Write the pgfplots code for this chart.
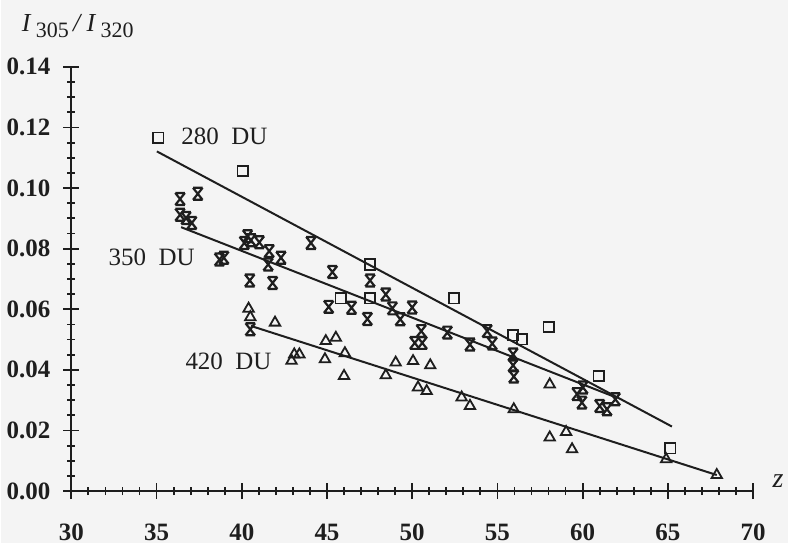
\documentclass[border=0pt]{standalone}
\usepackage{fontspec}
\setmainfont{Liberation Serif}
\usepackage{pgfplots}
\pgfplotsset{compat=1.18}
\definecolor{ink}{HTML}{1E1E1E}
\definecolor{paper}{HTML}{F4F4F4}
\pgfdeclareplotmark{hglass}{%
 \pgfpathmoveto{\pgfqpoint{-0.8\pgfplotmarksize}{-\pgfplotmarksize}}%
 \pgfpathlineto{\pgfqpoint{0.8\pgfplotmarksize}{\pgfplotmarksize}}%
 \pgfpathmoveto{\pgfqpoint{-0.8\pgfplotmarksize}{\pgfplotmarksize}}%
 \pgfpathlineto{\pgfqpoint{0.8\pgfplotmarksize}{-\pgfplotmarksize}}%
 \pgfpathmoveto{\pgfqpoint{-0.8\pgfplotmarksize}{\pgfplotmarksize}}%
 \pgfpathlineto{\pgfqpoint{0.8\pgfplotmarksize}{\pgfplotmarksize}}%
 \pgfpathmoveto{\pgfqpoint{-0.8\pgfplotmarksize}{-\pgfplotmarksize}}%
 \pgfpathlineto{\pgfqpoint{0.8\pgfplotmarksize}{-\pgfplotmarksize}}%
 \pgfusepathqstroke}
\begin{document}
\begin{tikzpicture}
\fill[paper] (-35pt,-26pt) rectangle (359pt,246pt);
\begin{axis}[
  at={(0,0)}, anchor=south west,
  scale only axis, width=341.5pt, height=212.5pt,
  xmin=30, xmax=70, ymin=0, ymax=0.14,
  axis lines=left, axis line style={-, line width=1pt, ink},
  xtick={30,35,...,70}, minor x tick num=4,
  ytick={0,0.02,0.04,0.06,0.08,0.10,0.12,0.14}, minor y tick num=3,
  scaled y ticks=false,
  yticklabel style={/pgf/number format/fixed, /pgf/number format/fixed zerofill, /pgf/number format/precision=2, xshift=-3pt},
  /pgf/number format/assume math mode=true,
  tick label style={font=\fontsize{12.5}{14}\selectfont\bfseries, text=ink},
  tick align=center, major tick length=8pt, minor tick length=4pt,
  tick style={line width=0.9pt, ink},
  xticklabel style={yshift=-9pt},
  clip=false,
]
% fitted lines
\addplot[ink, line width=1pt] coordinates {(35.02,0.1121) (65.24,0.0213)};
\addplot[ink, line width=1pt] coordinates {(36.44,0.0871) (61.92,0.0310)};
\addplot[ink, line width=1pt] coordinates {(40.54,0.0545) (67.87,0.0053)};
% 280 DU squares
\addplot[only marks, mark=square, mark size=2.6pt, ink, line width=0.9pt] coordinates {
(35.10,0.1166) (40.05,0.1057) (47.53,0.0748) (47.53,0.0636) (45.80,0.0636)
(52.45,0.0636) (55.92,0.0514) (56.45,0.0501) (58.01,0.0541) (60.94,0.0380) (65.14,0.0141)};
% 350 DU
\addplot[only marks, mark=hglass, mark size=3pt, ink, line width=1.1pt] coordinates {
(36.38,0.0964) (37.42,0.0981) (36.38,0.0912) (36.73,0.0901) (37.07,0.0885)
(38.69,0.0764) (38.95,0.0770) (40.34,0.0841) (40.54,0.0828) (40.15,0.0819)
(41.03,0.0821) (41.61,0.0792) (42.30,0.0770) (41.55,0.0748) (40.47,0.0695)
(41.81,0.0687) (44.06,0.0819) (45.32,0.0723) (45.10,0.0608) (46.44,0.0605)
(47.53,0.0695) (48.45,0.0649) (48.84,0.0603) (47.37,0.0568) (49.30,0.0567)
(50.00,0.0606) (40.50,0.0534) (50.53,0.0528) (50.15,0.0489) (50.59,0.0489)
(52.06,0.0523) (53.39,0.0484) (54.40,0.0528) (54.70,0.0487) (55.92,0.0451)
(55.92,0.0415) (55.96,0.0378) (59.67,0.0320) (60.02,0.0342) (59.96,0.0292)
(61.00,0.0281) (61.43,0.0270) (61.92,0.0303)};
% 420 DU triangles
\addplot[only marks, mark=triangle, mark size=3pt, ink, line width=0.9pt] coordinates {
(40.40,0.0602) (40.50,0.0574) (41.95,0.0556) (42.92,0.0430) (43.08,0.0451)
(43.38,0.0451) (44.93,0.0495) (45.52,0.0506) (44.88,0.0435) (46.05,0.0455)
(46.00,0.0380) (48.45,0.0382) (49.03,0.0424) (50.05,0.0429) (51.06,0.0415)
(50.34,0.0342) (50.85,0.0330) (52.90,0.0309) (53.39,0.0281) (55.96,0.0270)
(58.07,0.0352) (58.07,0.0177) (59.03,0.0195) (59.38,0.0138) (64.90,0.0105)
(67.87,0.0053)};
\node[font=\fontsize{12.5}{14}\selectfont, text=ink] at (axis cs:38.98,0.1170) {280~ DU};
\node[font=\fontsize{12.5}{14}\selectfont, text=ink] at (axis cs:34.71,0.0771) {350~ DU};
\node[font=\fontsize{12.5}{14}\selectfont, text=ink] at (axis cs:39.22,0.0429) {420~ DU};
\end{axis}
\node[anchor=base west, text=ink, inner sep=0pt] at (-25pt,230pt)
  {\fontsize{13}{15}\selectfont\textit{I}\,\raisebox{-0.45ex}{\fontsize{11}{12}\selectfont 305}\,\textit{/}\,\textit{I}\,\raisebox{-0.45ex}{\fontsize{11}{12}\selectfont 320}};
\node[text=ink, inner sep=0pt] at (354pt,5pt) {\fontsize{14}{16}\selectfont\textit{z}};
\path[use as bounding box] (-35pt,-26pt) rectangle (359pt,246pt);
\end{tikzpicture}
\end{document}
